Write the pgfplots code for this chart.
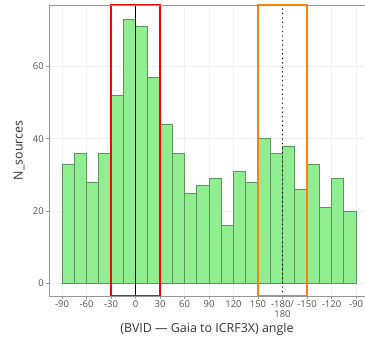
\documentclass[border=0pt]{standalone}
\usepackage{pgfplots}
\pgfplotsset{compat=1.18}
\usepackage{fontspec}
\setmainfont{Open Sans}
\definecolor{barfill}{RGB}{144,238,144}
\definecolor{baredge}{RGB}{90,150,90}
\definecolor{spine}{RGB}{150,150,150}
\definecolor{ticktext}{RGB}{80,80,80}
\definecolor{orangebox}{RGB}{255,127,14}
\begin{document}
\begin{tikzpicture}
\path[use as bounding box] (-49bp,-45bp) rectangle (316bp,296bp);
\begin{axis}[
  at={(0,0)}, anchor=south west,
  scale only axis, width=316bp, height=291bp,
  xmin=-106, xmax=281, ymin=-3.5, ymax=77,
  axis line style={draw=none},
  xtick={-90,-60,-30,0,30,60,90,120,150,180,210,240,270},
  xticklabels={-90,-60,-30,0,30,60,90,120,150,{-180/\\180},-150,-120,-90},
  ytick={0,20,40,60},
  xtick pos=bottom, ytick pos=left,
  tick align=outside, major tick length=3bp,
  tick style={spine, line width=0.6pt},
  grid=major, major grid style={gray!12, line width=0.6pt},
  /pgf/number format/assume math mode=true,
  ticklabel style={font=\fontsize{9.5}{10}\selectfont, text=ticktext},
  xticklabel style={align=center, inner sep=1.5pt},
  yticklabel style={inner sep=2pt},
  xlabel={(BVID — Gaia to ICRF3X) angle},
  ylabel={N\_sources},
  label style={font=\fontsize{12.5}{14}\selectfont, text=black!80},
  xlabel style={yshift=0bp},
  ylabel style={yshift=3bp},
  clip=false,
]
\addplot[ybar interval, fill=barfill, draw=baredge, line width=0.7pt] coordinates {
(-90,33)(-75,36)(-60,28)(-45,36)(-30,52)(-15,73)(0,71)(15,57)(30,44)(45,36)
(60,25)(75,27)(90,29)(105,16)(120,31)(135,28)(150,40)(165,36)(180,38)(195,26)
(210,33)(225,21)(240,29)(255,20)(270,20)};
\addplot[black, line width=1.6pt] coordinates {(0,-3.5)(0,77)};
\addplot[black, line width=1.4pt, line cap=round, dash pattern=on 0pt off 4.5pt] coordinates {(180,-3.5)(180,77)};
\addplot[red, line width=1.8pt] coordinates {(-30,-3.5)(-30,77)(30,77)(30,-3.5)(-30,-3.5)};
\addplot[orangebox, line width=1.8pt] coordinates {(150,-3.5)(150,77)(210,77)(210,-3.5)(150,-3.5)};
\draw[spine, line width=0.7pt] (rel axis cs:1,0) -- (rel axis cs:0,0) -- (rel axis cs:0,1) -- (rel axis cs:1,1);
\end{axis}
\end{tikzpicture}
\end{document}
